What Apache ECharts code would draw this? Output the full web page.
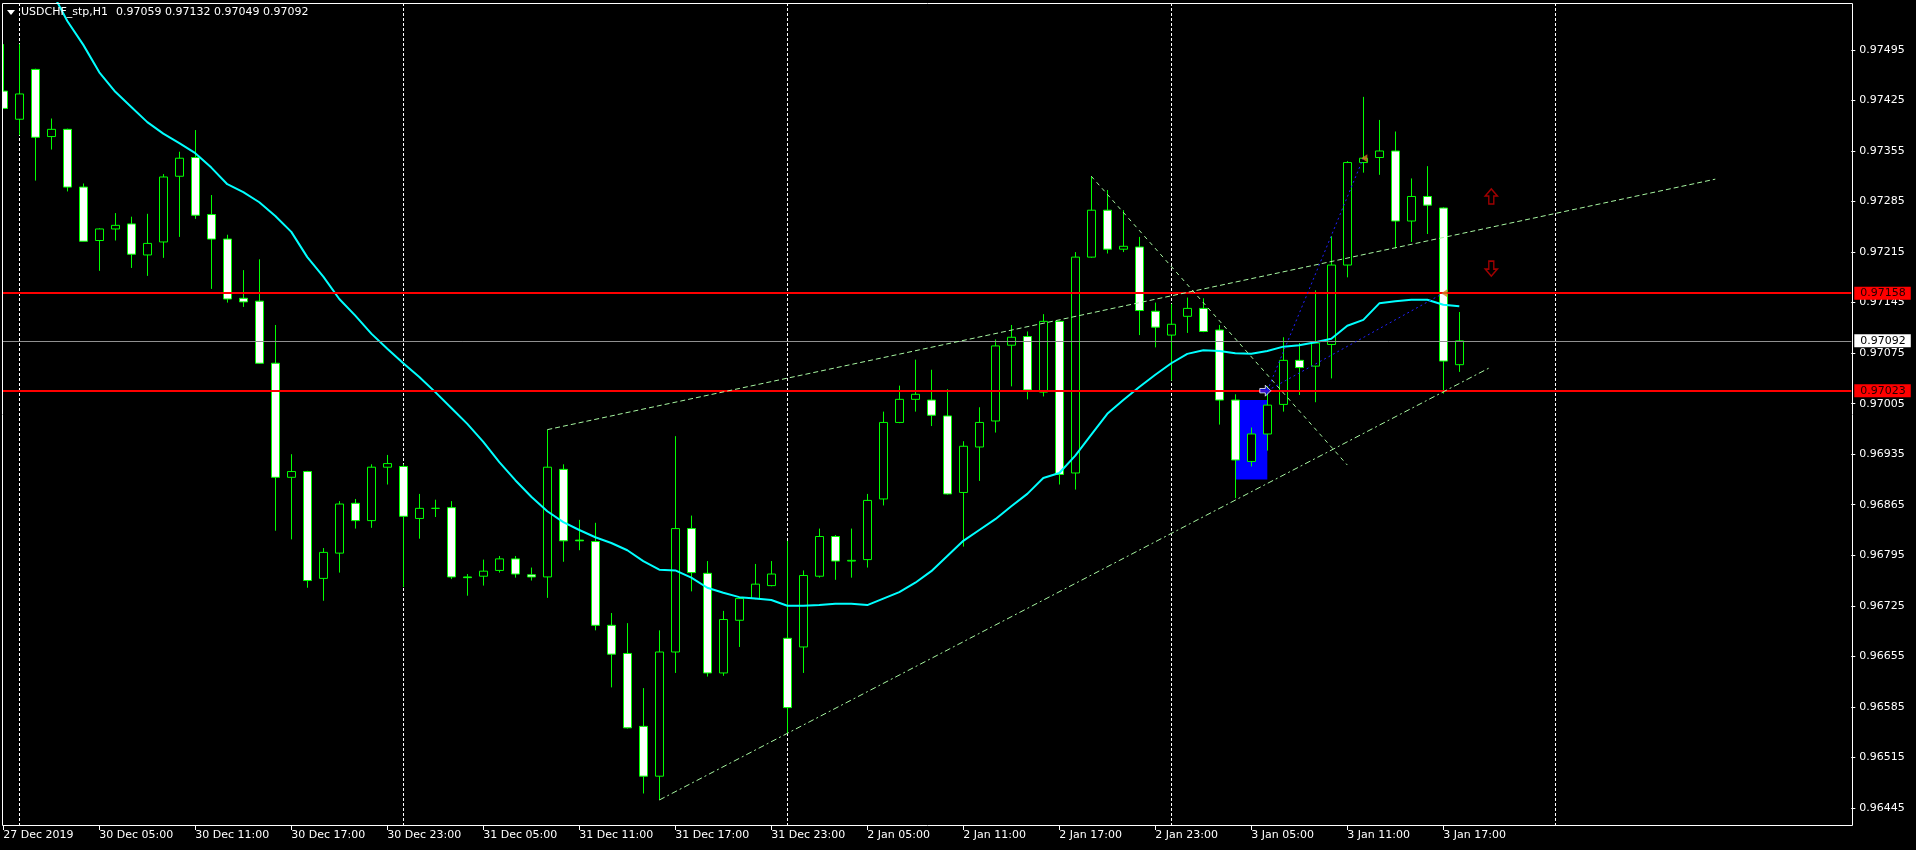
<!DOCTYPE html>
<html><head><meta charset="utf-8">
<script src="https://cdn.jsdelivr.net/npm/echarts@6/dist/echarts.min.js"></script>
<style>html,body{margin:0;padding:0;background:#000;}#c{width:1916px;height:850px;}</style>
</head><body><div id="c"></div>
<script>
// ---------- data ----------
const symbolTitle = 'USDCHF_stp,H1';
const firstBarLabel = '27 Dec 2019';
const sessionDays = ['30 Dec', '31 Dec', '2 Jan', '3 Jan', '4 Jan'];
const totalSlots = 116;

const opens = [0.97438,0.97399,0.97468,0.97375,0.97385,0.97305,0.97231,0.97247,0.97254,0.97211,
0.97229,0.97320,0.97346,0.97267,0.97233,0.97151,0.97147,0.97061,0.96903,0.96911,
0.96763,0.96798,0.96867,0.96843,0.96917,0.96918,0.96846,0.96860,0.96861,0.96765,
0.96766,0.96774,0.96790,0.96768,0.96765,0.96914,0.96816,0.96814,0.96698,0.96659,
0.96558,0.96489,0.96661,0.96832,0.96770,0.96632,0.96705,0.96735,0.96753,0.96680,
0.96668,0.96766,0.96821,0.96787,0.96789,0.96873,0.96979,0.97011,0.97010,0.96988,
0.96882,0.96945,0.96981,0.97086,0.97098,0.97021,0.97119,0.96909,0.97208,0.97273,
0.97219,0.97222,0.97133,0.97100,0.97126,0.97137,0.97107,0.97010,0.96925,0.96963,
0.97004,0.97065,0.97057,0.97087,0.97197,0.97339,0.97346,0.97355,0.97258,0.97292,
0.97276,0.97059];
const closes = [0.97414,0.97434,0.97374,0.97385,0.97305,0.97230,0.97247,0.97252,0.97212,0.97227,
0.97319,0.97345,0.97266,0.97233,0.97150,0.97146,0.97061,0.96903,0.96911,0.96760,
0.96799,0.96866,0.96843,0.96917,0.96922,0.96849,0.96860,0.96860,0.96765,0.96764,
0.96773,0.96790,0.96769,0.96765,0.96917,0.96815,0.96815,0.96698,0.96658,0.96556,
0.96489,0.96661,0.96832,0.96771,0.96632,0.96706,0.96735,0.96755,0.96769,0.96584,
0.96767,0.96821,0.96787,0.96788,0.96871,0.96979,0.97011,0.97018,0.96989,0.96880,
0.96946,0.96979,0.97085,0.97097,0.97024,0.97119,0.96907,0.97208,0.97273,0.97219,
0.97223,0.97134,0.97111,0.97115,0.97137,0.97105,0.97010,0.96927,0.96963,0.97003,
0.97065,0.97055,0.97089,0.97197,0.97339,0.97345,0.97355,0.97258,0.97292,0.97280,
0.97064,0.97092];
const lows = [0.97414,0.97377,0.97314,0.97357,0.97299,0.97230,0.97189,0.97231,0.97193,0.97182,
0.97207,0.97236,0.97261,0.97164,0.97145,0.97139,0.97060,0.96829,0.96817,0.96750,
0.96732,0.96771,0.96832,0.96833,0.96893,0.96751,0.96818,0.96848,0.96762,0.96739,
0.96753,0.96771,0.96764,0.96760,0.96736,0.96786,0.96802,0.96691,0.96612,0.96555,
0.96465,0.96456,0.96632,0.96745,0.96627,0.96628,0.96668,0.96734,0.96752,0.96548,
0.96632,0.96764,0.96761,0.96764,0.96778,0.96864,0.96978,0.96994,0.96974,0.96879,
0.96807,0.96898,0.96965,0.97029,0.97011,0.97015,0.96893,0.96886,0.97207,0.97213,
0.97215,0.97100,0.97083,0.97037,0.97103,0.97104,0.96976,0.96874,0.96918,0.96940,
0.96994,0.97017,0.97007,0.97040,0.97180,0.97325,0.97322,0.97220,0.97229,0.97240,
0.97019,0.97049];
const highs = [0.97503,0.97503,0.97469,0.97400,0.97386,0.97310,0.97248,0.97269,0.97264,0.97268,
0.97323,0.97354,0.97384,0.97294,0.97239,0.97190,0.97205,0.97114,0.96935,0.96912,
0.96805,0.96870,0.96873,0.96921,0.96934,0.96921,0.96880,0.96872,0.96870,0.96769,
0.96789,0.96794,0.96794,0.96778,0.96969,0.96921,0.96844,0.96840,0.96715,0.96701,
0.96611,0.96691,0.96960,0.96850,0.96787,0.96718,0.96736,0.96783,0.96787,0.96815,
0.96774,0.96832,0.96823,0.96832,0.96880,0.96994,0.97030,0.97066,0.97052,0.97025,
0.96953,0.97000,0.97094,0.97114,0.97105,0.97129,0.97120,0.97215,0.97320,0.97301,
0.97273,0.97236,0.97145,0.97143,0.97152,0.97151,0.97114,0.97018,0.96972,0.97029,
0.97097,0.97089,0.97162,0.97237,0.97341,0.97430,0.97398,0.97382,0.97317,0.97334,
0.97277,0.97132];
const maValues = [0.97682,0.97647,0.97613,0.97577,0.97535,0.97502,0.97464,0.97437,0.97416,0.97395,
0.97379,0.97366,0.97352,0.97332,0.97309,0.97298,0.97284,0.97265,0.97243,0.97208,
0.97181,0.97150,0.97127,0.97102,0.97081,0.97061,0.97042,0.97021,0.96999,0.96977,
0.96952,0.96924,0.96899,0.96876,0.96856,0.96841,0.96830,0.96820,0.96812,0.96802,
0.96787,0.96775,0.96774,0.96764,0.96750,0.96743,0.96737,0.96735,0.96733,0.96725,
0.96725,0.96726,0.96728,0.96728,0.96726,0.96735,0.96744,0.96757,0.96773,0.96794,
0.96815,0.96830,0.96845,0.96863,0.96880,0.96902,0.96909,0.96933,0.96962,0.96991,
0.97010,0.97028,0.97045,0.97061,0.97074,0.97079,0.97078,0.97075,0.97074,0.97078,
0.97084,0.97086,0.97090,0.97095,0.97113,0.97121,0.97144,0.97147,0.97149,0.97149,
0.97142,0.97140];
const yTicks = [0.96445,0.96515,0.96585,0.96655,0.96725,0.96795,0.96865,0.96935,
0.97005,0.97075,0.97145,0.97215,0.97285,0.97355,0.97425,0.97495];
const levelHigh = 0.97158, levelLow = 0.97023, bidLevel = 0.97092;
// trend lines: [fromIndex, fromPrice, toIndex, toPrice]
const channelUpper = [34, 0.96969, 107, 0.97316];
const channelLower = [41, 0.96456, 93, 0.97056];
const fallingLine = [68, 0.97320, 84, 0.96920];
const tradeLines = [[79, 0.97023, 85, 0.97345], [79, 0.97023, 90, 0.97158]];
const boxArea = [77, 0.97010, 79, 0.96900];
const signalUp = [93, 0.97292], signalDown = [93, 0.97192];

// ---------- build ----------
const categories = [firstBarLabel];
sessionDays.forEach(d => {
  for (let h = 0; h < 24 && categories.length < totalSlots; h++)
    categories.push(d + ' ' + String(h).padStart(2, '0') + ':00');
});
const lastBar = opens.length - 1;
const separators = categories.map((c, i) => c.endsWith(' 00:00') ? i : -1).filter(i => i >= 0);
const candleData = opens.map((o, i) => [o, closes[i], lows[i], highs[i]]);
const FONT = 'DejaVu Sans';
const showTick = (i) => i % 6 === 0 && i <= lastBar;
const pale = '#a6f5a0';
const tl = (a, type, color) => [{coord: [a[0], a[1]], lineStyle: {color: color || pale, type: type, width: 1}}, {coord: [a[2], a[3]]}];
const priceLabel = (bg, fg) => ({show: true, position: 'end', distance: 3, formatter: p => Number(p.value).toFixed(5),
  backgroundColor: bg, color: fg, fontFamily: FONT, fontSize: 11, lineHeight: 11, padding: [1, 5, 1, 6]});

const chart = echarts.init(document.getElementById('c'));
const ohlc = [opens[lastBar], highs[lastBar], lows[lastBar], closes[lastBar]].map(v => v.toFixed(5)).join(' ');
chart.setOption({
  backgroundColor: '#000',
  animation: false,
  grid: {left: -4.7, right: 64.7, top: 3, bottom: 24, containLabel: false, outerBoundsMode: 'none'},
  xAxis: {
    type: 'category', data: categories, boundaryGap: true,
    axisLine: {show: false},
    axisTick: {show: true, alignWithLabel: true, length: 4, interval: showTick, lineStyle: {color: '#fff'}},
    axisLabel: {interval: showTick, align: 'left', margin: 4, color: '#fff', fontFamily: FONT, fontSize: 11},
    splitLine: {show: false}
  },
  yAxis: {
    type: 'value', position: 'right', min: 0.9642, max: 0.9756, scale: true,
    axisLine: {show: false},
    splitLine: {show: false},
    axisTick: {show: true, length: 4, customValues: yTicks, lineStyle: {color: '#fff'}},
    axisLabel: {customValues: yTicks, margin: 8, color: '#fff', fontFamily: FONT, fontSize: 11,
      formatter: v => Number(v).toFixed(5)}
  },
  series: [
    {
      type: 'line', data: [], silent: true, z: 1,
      markLine: {silent: true, z: 1, symbol: ['none', 'none'], label: {show: false},
        lineStyle: {color: '#ffffff', type: [3, 2], width: 1},
        data: separators.map(i => ({xAxis: i}))},
      markArea: {silent: true, z: 1, itemStyle: {color: '#0000ff'},
        data: [[{coord: [boxArea[0], boxArea[1]]}, {coord: [boxArea[2], boxArea[3]]}]]}
    },
    {
      type: 'candlestick', data: candleData, barWidth: 9, z: 2,
      itemStyle: {color: '#000000', color0: '#ffffff', borderColor: '#00ff00', borderColor0: '#00ff00',
        borderColorDoji: '#00ff00', borderWidth: 1}
    },
    {
      type: 'line', data: maValues, z: 3, showSymbol: false, symbol: 'none', smooth: false,
      lineStyle: {color: '#00ffff', width: 2},
      markLine: {
        silent: true, symbol: ['none', 'none'], z: 5, precision: 5,
        data: [
          {name: 'bid', yAxis: bidLevel, lineStyle: {color: '#909090', type: 'solid', width: 1}, label: priceLabel('#ffffff', '#000000')},
          {name: 'hi', yAxis: levelHigh, lineStyle: {color: '#ff0000', type: 'solid', width: 2}, label: priceLabel('#ff0000', '#200000')},
          {name: 'lo', yAxis: levelLow, lineStyle: {color: '#ff0000', type: 'solid', width: 2}, label: priceLabel('#ff0000', '#200000')}
        ]
      }
    },
    {
      type: 'scatter', z: 6, silent: true,
      data: [
        {value: [tradeLines[0][0], tradeLines[0][1]], symbol: 'path://M0,3L5,3L5,0L10,5L5,10L5,7L0,7Z', symbolSize: [11, 11], symbolOffset: [-2, 0],
          itemStyle: {color: '#1010ff', borderColor: '#ffffff', borderWidth: 1}},
        {value: [tradeLines[0][2], tradeLines[0][3]], symbol: 'triangle', symbolRotate: 90, symbolSize: [8, 6], symbolOffset: [1, 0],
          itemStyle: {color: '#d8801e'}},
        {value: [tradeLines[1][2], tradeLines[1][3]], symbol: 'triangle', symbolRotate: 90, symbolSize: [8, 6], symbolOffset: [1, 0],
          itemStyle: {color: '#d8801e'}},
        {value: signalUp, symbol: 'path://M6,0L12,7L8.5,7L8.5,15L3.5,15L3.5,7L0,7Z', symbolSize: [12, 15],
          itemStyle: {color: '#000000', borderColor: '#c80000', borderWidth: 1.5}},
        {value: signalDown, symbol: 'path://M6,0L12,7L8.5,7L8.5,15L3.5,15L3.5,7L0,7Z', symbolRotate: 180, symbolSize: [12, 15],
          itemStyle: {color: '#000000', borderColor: '#c80000', borderWidth: 1.5}}
      ],
      markLine: {
        silent: true, symbol: ['none', 'none'], label: {show: false}, precision: 5,
        data: [
          tl(channelUpper, [5, 3]),
          tl(channelLower, [6, 3, 2, 3]),
          tl(fallingLine, [4, 4]),
          tl(tradeLines[0], [2, 3], '#2020ff'),
          tl(tradeLines[1], [2, 3], '#2020ff')
        ]
      }
    }
  ],
  graphic: {elements: [
    {type: 'rect', z: 100, silent: true, shape: {x: 0, y: 0, width: 2, height: 826}, style: {fill: '#000'}},
    {type: 'rect', z: 101, silent: true, shape: {x: 2.5, y: 3.5, width: 1850, height: 822}, style: {fill: null, stroke: '#ffffff', lineWidth: 1}},
    {type: 'polygon', z: 101, silent: true, shape: {points: [[7, 10], [15, 10], [11, 15]]}, style: {fill: '#ffffff'}},
    {type: 'text', z: 101, silent: true, x: 21, y: 12, style: {text: symbolTitle, fill: '#ffffff', font: '11px "DejaVu Sans"', verticalAlign: 'middle'}},
    {type: 'text', z: 101, silent: true, x: 116, y: 12, style: {text: ohlc, fill: '#ffffff', font: '11px "DejaVu Sans"', verticalAlign: 'middle'}}
  ]}
});
</script>
</body></html>
